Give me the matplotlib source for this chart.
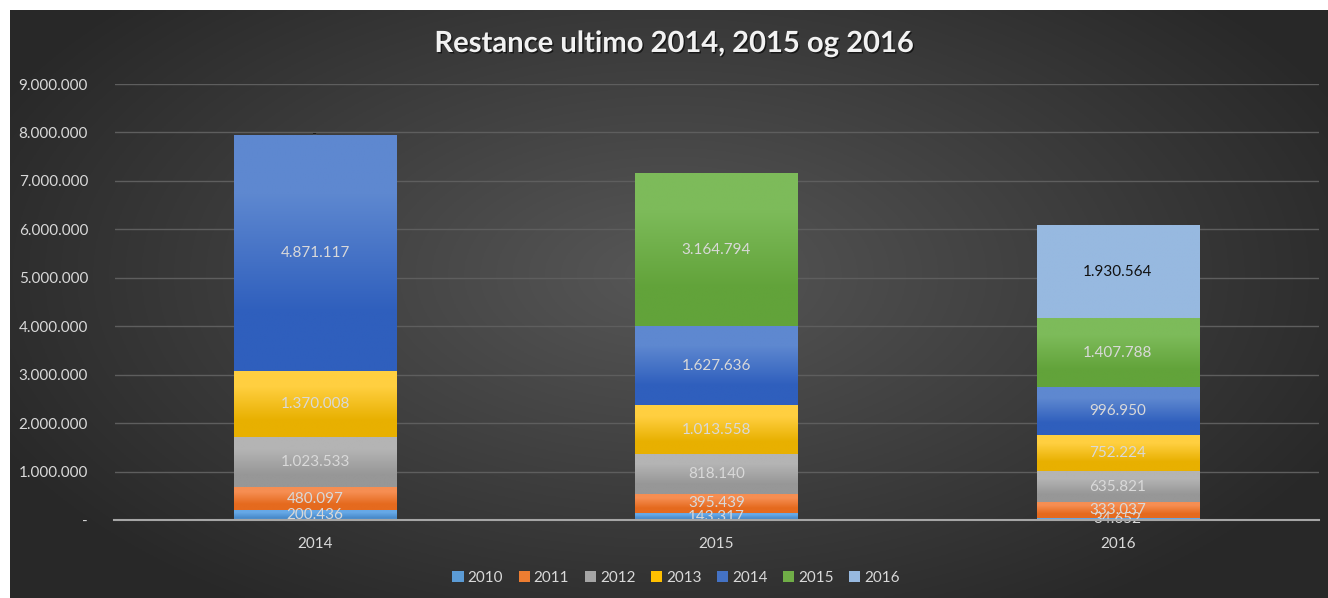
import matplotlib.pyplot as plt
import matplotlib.patheffects as pe
import numpy as np

categories = ["2014", "2015", "2016"]
series_names = ["2010", "2011", "2012", "2013", "2014", "2015", "2016"]
s2010 = [200436, 143317, 34652]
s2011 = [480097, 395439, 333037]
s2012 = [1023533, 818140, 635821]
s2013 = [1370008, 1013558, 752224]
s2014 = [4871117, 1627636, 996950]
s2015 = [0, 3164794, 1407788]
s2016 = [0, None, 1930564]
series = [s2010, s2011, s2012, s2013, s2014, s2015, s2016]

# top / bottom colours of each gradient
colors = ["#5b9bd5", "#ed7d31", "#a5a5a5", "#ffc000", "#4472c4", "#70ad47", "#97b9e0"]
grad_top = ["#66a8e6", "#f68e52", "#b4b4b4", "#ffcf40", "#5e88d0", "#7dbb5a", "#97b9e0"]
grad_bot = ["#4a8ccc", "#e56a1e", "#979797", "#e8b000", "#2f5fbd", "#62a33a", "#97b9e0"]
label_colors = ["#d9d9d9"] * 6 + ["#111111"]

W, H = 1328, 598
fig = plt.figure(figsize=(W / 100, H / 100), dpi=100)
fig.patch.set_facecolor("white")

# dark radial background
bg = fig.add_axes([10 / W, 0, 1 - 10 / W, 1 - 10 / H])
yy, xx = np.mgrid[0:1:300j, 0:1:600j]
r = np.sqrt(((xx - 0.5) / 0.75) ** 2 + ((yy - 0.45) / 0.9) ** 2)
r = np.clip(r / 0.75, 0, 1)
c_in, c_out = np.array([0.34, 0.34, 0.34]), np.array([0.16, 0.16, 0.16])
img = c_in[None, None, :] * (1 - r[..., None]) + c_out[None, None, :] * r[..., None]
bg.imshow(img, aspect="auto", extent=[0, 1, 0, 1])
bg.set_axis_off()

ax = fig.add_axes([114.5 / W, (H - 520) / H, (1318.5 - 114.5) / W, (520 - 84) / H])
ax.patch.set_alpha(0)

font = "Lato"
fs = 11
x = np.arange(len(categories))
bottom = np.zeros(len(categories))
handles = []
for i, (name, vals) in enumerate(zip(series_names, series)):
    v = np.array([0 if a is None else a for a in vals], dtype=float)
    bars = ax.bar(x, v, 0.404, bottom=bottom, color=colors[i], zorder=3, label=name)
    handles.append(bars)
    for j, b in enumerate(bars):
        if v[j] > 0:
            rgb = np.array([plt.matplotlib.colors.to_rgb(c) for c in (grad_top[i], grad_bot[i])])[:, None, :]
            im = ax.imshow(rgb, aspect="auto", interpolation="bilinear", zorder=3.5,
                           extent=[b.get_x(), b.get_x() + b.get_width(), bottom[j], bottom[j] + v[j]])
            im.set_clip_path(b)
        if vals[j] is None:
            continue
        txt = f"{vals[j]:,.0f}".replace(",", ".") if vals[j] > 0 else "-"
        ax.text(x[j], bottom[j] + v[j] / 2, txt, ha="center", va="center",
                color=label_colors[i], fontsize=fs, family=font, zorder=5)
    bottom += v

ax.set_xlim(-0.5, 2.5)
ax.set_ylim(0, 9000000)
ax.set_xticks(x)
ax.set_xticklabels(categories, color="#d9d9d9", fontsize=fs, family=font)
yt = np.arange(0, 9000001, 1000000)
ax.set_yticks(yt)
ax.set_yticklabels(["-" if t == 0 else f"{t:,.0f}".replace(",", ".") for t in yt],
                   color="#d9d9d9", fontsize=fs, family=font)
ax.tick_params(length=0)
ax.tick_params(axis="y", pad=19)
ax.tick_params(axis="x", pad=12)
ax.grid(axis="y", color="#5e5e5e", linewidth=1, zorder=0)
for s in ["top", "right", "left"]:
    ax.spines[s].set_visible(False)
ax.spines["bottom"].set_color("#a6a6a6")
ax.spines["bottom"].set_linewidth(1.5)
ax.spines["bottom"].set_zorder(6)

fig.text(674 / W, 1 - 44 / H, "Restance ultimo 2014, 2015 og 2016", ha="center", va="center",
         color="#f2f2f2", fontsize=21, fontweight="bold", family=font,
         path_effects=[pe.withSimplePatchShadow(offset=(1, -1), shadow_rgbFace="black", alpha=0.6)])

leg = fig.legend(handles=handles, labels=series_names, loc="center", bbox_to_anchor=(676 / W, 1 - 578 / H),
                 ncol=7, frameon=False, handlelength=0.75, handleheight=0.75, handletextpad=0.25,
                 columnspacing=1.0, prop={"family": font, "size": fs})
for t in leg.get_texts():
    t.set_color("#d9d9d9")

fig.savefig("out.png", dpi=100, facecolor=fig.get_facecolor())
